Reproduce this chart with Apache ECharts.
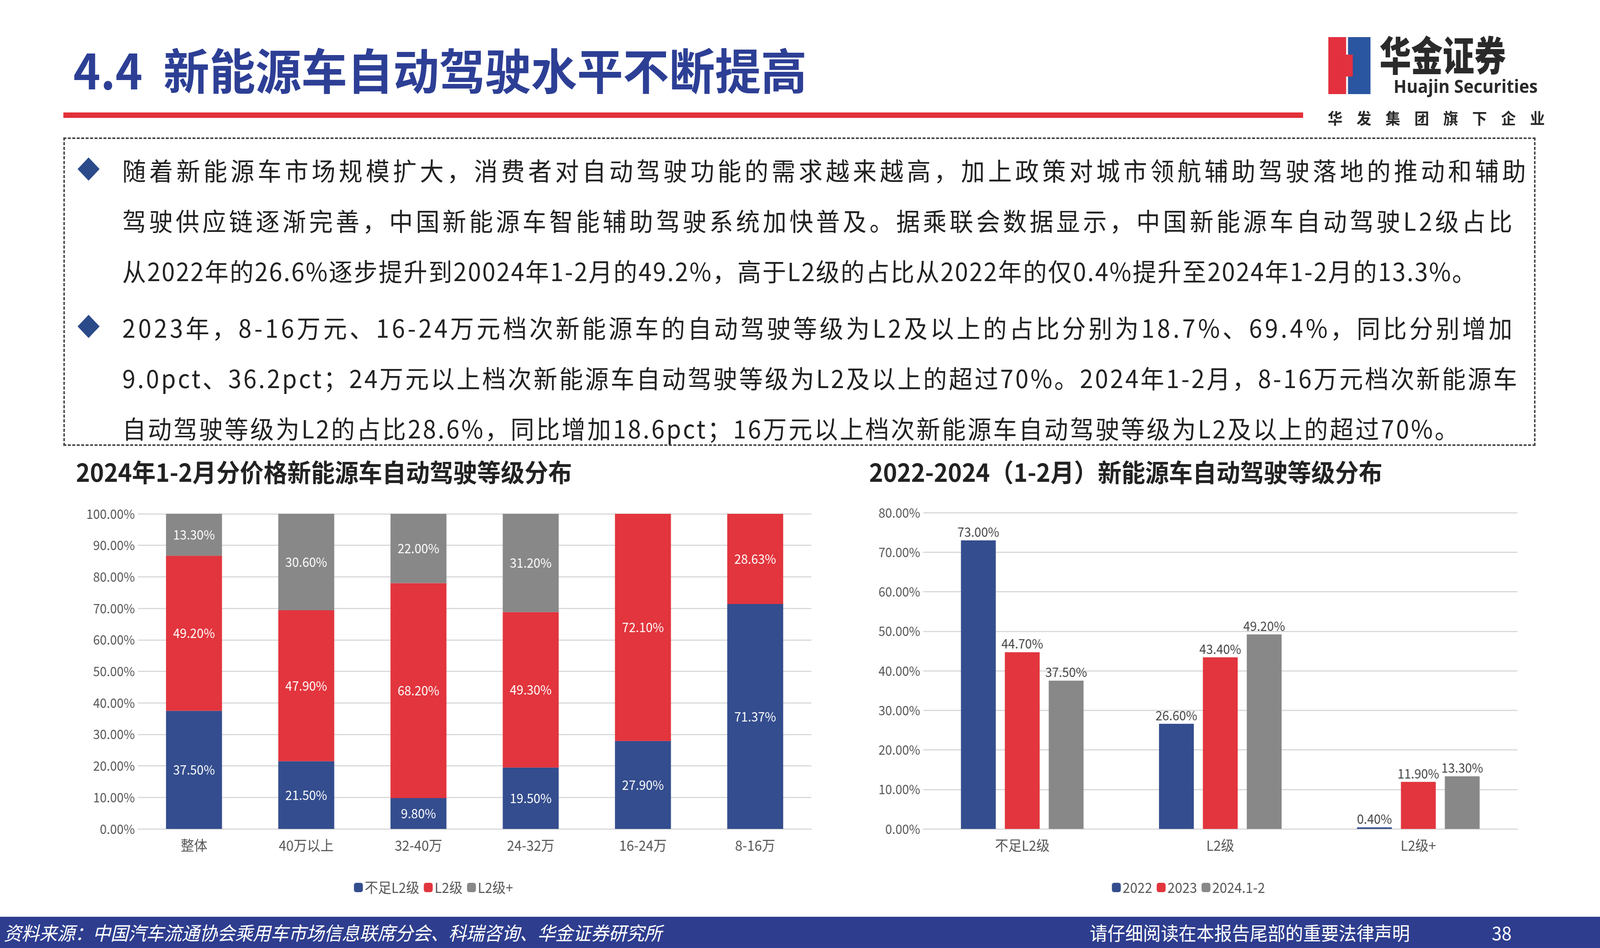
<!DOCTYPE html>
<html><head><meta charset="utf-8">
<script src="https://cdn.jsdelivr.net/npm/echarts@6/dist/echarts.min.js"></script>
<style>
html,body{margin:0;padding:0;overflow:hidden;background:#fff}
#page{width:4317px;height:2428px;position:relative;overflow:hidden;font-family:"Noto Sans CJK SC",sans-serif;transform-origin:0 0}
.a{position:absolute;white-space:nowrap}
#main{position:absolute;left:0;top:0;width:4317px;height:2428px}
.bl{position:absolute;left:330px;font-size:64px;color:#222;line-height:129px;white-space:nowrap}
.dm{position:absolute;left:218px;width:42px;height:42px;background:#2b4a8a;transform:rotate(45deg)}
</style></head><body>
<div id="page">
<div id="main"></div>
<div class="a" style="left:198px;top:95px;font-size:124px;font-weight:bold;color:#2d3f95;line-height:160px">4.4&nbsp;&nbsp;新能源车自动驾驶水平不断提高</div>
<div class="a" style="left:171px;top:288px;width:3345px;height:14px;background:#e2313a"></div>
<div class="a" style="left:3584px;top:95px;width:48px;height:146px;background:#e3303f"></div>
<div class="a" style="left:3637px;top:95px;width:61px;height:146px;background:#2a55a0"></div>
<div class="a" style="left:3620px;top:140px;width:30px;height:56px;background:#e3303f"></div>
<div class="a" style="left:3722px;top:72px;font-size:104px;font-weight:900;color:#2a2a2a;line-height:130px;transform:scaleX(0.82);transform-origin:0 0">华金证券</div>
<div class="a" style="left:3760px;top:190px;font-size:46px;font-weight:bold;color:#2a2a2a;line-height:60px;font-family:'Open Sans'">Huajin Securities</div>
<div class="a" style="left:3582px;top:272px;font-size:40px;font-weight:bold;color:#2a2a2a;letter-spacing:38px">华发集团旗下企业</div>
<div class="a" style="left:171px;top:352px;width:3964px;height:782px;border:4px dashed #444"></div>
<div class="dm" style="top:412px"></div>
<div class="bl" style="top:370px;letter-spacing:9px">随着新能源车市场规模扩大，消费者对自动驾驶功能的需求越来越高，加上政策对城市领航辅助驾驶落地的推动和辅助</div>
<div class="bl" style="top:499px;letter-spacing:8px">驾驶供应链逐渐完善，中国新能源车智能辅助驾驶系统加快普及。据乘联会数据显示，中国新能源车自动驾驶L2级占比</div>
<div class="bl" style="top:628px;letter-spacing:3.3px">从2022年的26.6%逐步提升到20024年1-2月的49.2%，高于L2级的占比从2022年的仅0.4%提升至2024年1-2月的13.3%。</div>
<div class="dm" style="top:815px"></div>
<div class="bl" style="top:773px;letter-spacing:7.2px">2023年，8-16万元、16-24万元档次新能源车的自动驾驶等级为L2及以上的占比分别为18.7%、69.4%，同比分别增加</div>
<div class="bl" style="top:902px;letter-spacing:5.3px">9.0pct、36.2pct；24万元以上档次新能源车自动驾驶等级为L2及以上的超过70%。2024年1-2月，8-16万元档次新能源车</div>
<div class="bl" style="top:1031px;letter-spacing:5px">自动驾驶等级为L2的占比28.6%，同比增加18.6pct；16万元以上档次新能源车自动驾驶等级为L2及以上的超过70%。</div>
<div class="a" style="left:205px;top:1160px;font-size:64px;font-weight:bold;color:#222">2024年1-2月分价格新能源车自动驾驶等级分布</div>
<div class="a" style="left:2345px;top:1160px;font-size:64px;font-weight:bold;color:#222">2022-2024（1-2月）新能源车自动驾驶等级分布</div>
<div class="a" style="left:0;top:2348px;width:4317px;height:80px;background:#2e3d8e"></div>
<div class="a" style="left:10px;top:2355px;font-size:48px;color:#fff;font-style:italic;line-height:64px">资料来源：中国汽车流通协会乘用车市场信息联席分会、科瑞咨询、华金证券研究所</div>
<div class="a" style="left:2940px;top:2355px;font-size:48px;color:#fff;line-height:64px">请仔细阅读在本报告尾部的重要法律声明</div>
<div class="a" style="left:4025px;top:2355px;font-size:48px;color:#fff;line-height:64px">38</div>
</div>
<script>
var priceCats = ['整体', '40万以上', '32-40万', '24-32万', '16-24万', '8-16万'];
var belowL2 = [37.5, 21.5, 9.8, 19.5, 27.9, 71.37];
var levelL2 = [49.2, 47.9, 68.2, 49.3, 72.1, 28.63];
var levelL2p = [13.3, 30.6, 22.0, 31.2, 0, 0];
var yearCats = ['不足L2级', 'L2级', 'L2级+'];
var y2022 = [73.0, 26.6, 0.4];
var y2023 = [44.7, 43.4, 11.9];
var y2024 = [37.5, 49.2, 13.3];

// the window may be narrower than the page: stretch the page to fill it
document.getElementById('page').style.transform =
  'scale(' + (window.innerWidth / 4317) + ',' + (window.innerHeight / 2428) + ')';

var blue = '#344d8e', red = '#e2353d', gray = '#888888';
var font = 'Noto Sans CJK SC';
var myChart = echarts.init(document.getElementById('main'));
function pct(p) { return p.value ? p.value.toFixed(2) + '%' : ''; }
var axisLab = { fontSize: 33, color: '#555', fontFamily: font, formatter: function (v) { return v.toFixed(2) + '%'; } };
var catLab = { fontSize: 36, color: '#555', fontFamily: font, margin: 24 };
var split = { lineStyle: { color: '#d9d9d9', width: 3 } };
function stack(name, data, color) {
  return { name: name, type: 'bar', stack: 's', barWidth: 151, data: data, itemStyle: { color: color },
    label: { show: true, position: 'inside', color: '#fff', fontSize: 33, fontFamily: font, formatter: pct } };
}
function grp(name, data, color) {
  return { name: name, type: 'bar', xAxisIndex: 1, yAxisIndex: 1, barWidth: 94, barGap: '26%', data: data, itemStyle: { color: color },
    label: { show: true, position: 'top', color: '#444', fontSize: 33, fontFamily: font, formatter: pct } };
}
option = {
  animation: false,
  grid: [{ left: 372, width: 1817, top: 1316, height: 807 }, { left: 2491, width: 1603, top: 1313, height: 810 }],
  legend: [{ data: ['不足L2级', 'L2级', 'L2级+'], left: 950, top: 2250, itemWidth: 24, itemHeight: 24, itemGap: 12,
      textStyle: { fontSize: 36, color: '#555', fontFamily: font } },
    { data: ['2022', '2023', '2024.1-2'], left: 2995, top: 2250, itemWidth: 24, itemHeight: 24, itemGap: 12,
      textStyle: { fontSize: 36, color: '#555', fontFamily: font } }],
  xAxis: [{ type: 'category', data: priceCats, axisLabel: catLab, axisTick: { show: false }, axisLine: { lineStyle: { color: '#d9d9d9', width: 3 } } },
    { type: 'category', gridIndex: 1, data: yearCats, axisLabel: catLab, axisTick: { show: false }, axisLine: { lineStyle: { color: '#d9d9d9', width: 3 } } }],
  yAxis: [{ type: 'value', min: 0, max: 100, interval: 10, axisLabel: axisLab, splitLine: split },
    { type: 'value', gridIndex: 1, min: 0, max: 80, interval: 10, axisLabel: axisLab, splitLine: split }],
  series: [stack('不足L2级', belowL2, blue), stack('L2级', levelL2, red), stack('L2级+', levelL2p, gray),
    grp('2022', y2022, blue), grp('2023', y2023, red), grp('2024.1-2', y2024, gray)]
};
myChart.setOption(option);
</script>
</body></html>
